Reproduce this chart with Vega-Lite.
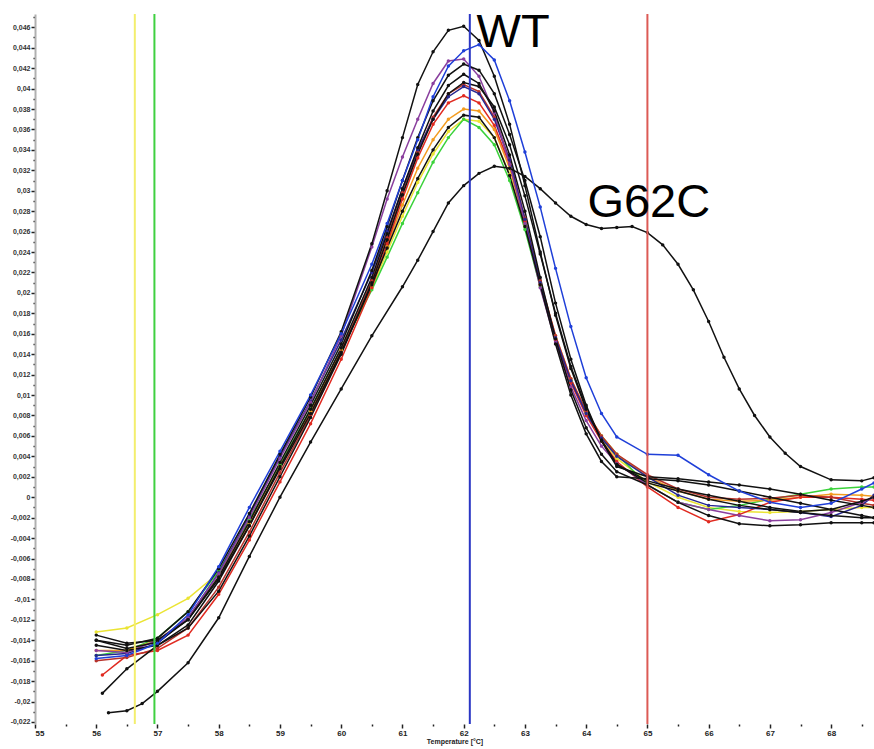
{
"$schema": "https://vega.github.io/schema/vega-lite/v6.json",
"autosize": {"type": "none"},
"padding": {"left": 35, "top": 14, "right": 0, "bottom": 25},
"width": 839,
"height": 710,
"background": "white",
"config": {"view": {"stroke": null}, "font": "Liberation Sans"},
"datasets": {
"curves": [
{"s":"y1","t":56,"v":-0.0132},{"s":"y1","t":56.5,"v":-0.0128},{"s":"y1","t":57,"v":-0.0115},{"s":"y1","t":57.5,"v":-0.0099},{"s":"y1","t":58,"v":-0.0074},{"s":"y1","t":58.5,"v":-0.0026},{"s":"y1","t":59,"v":0.003},{"s":"y1","t":59.5,"v":0.0084},{"s":"y1","t":60,"v":0.0144},{"s":"y1","t":60.5,"v":0.0205},{"s":"y1","t":60.75,"v":0.024},{"s":"y1","t":61,"v":0.0275},{"s":"y1","t":61.25,"v":0.0308},{"s":"y1","t":61.5,"v":0.0336},{"s":"y1","t":61.75,"v":0.0358},{"s":"y1","t":62,"v":0.037},{"s":"y1","t":62.25,"v":0.0368},{"s":"y1","t":62.5,"v":0.0352},{"s":"y1","t":62.75,"v":0.0316},{"s":"y1","t":63,"v":0.0265},{"s":"y1","t":63.25,"v":0.0208},{"s":"y1","t":63.5,"v":0.0156},{"s":"y1","t":63.75,"v":0.0114},{"s":"y1","t":64,"v":0.0082},{"s":"y1","t":64.25,"v":0.0057},{"s":"y1","t":64.5,"v":0.0038},{"s":"y1","t":65,"v":0.0015},{"s":"y1","t":65.5,"v":0.0},{"s":"y1","t":66,"v":-0.001},{"s":"y1","t":66.5,"v":-0.0014},{"s":"y1","t":67,"v":-0.0015},{"s":"y1","t":67.5,"v":-0.0014},{"s":"y1","t":68,"v":-0.0012},{"s":"y1","t":68.5,"v":-0.001},{"s":"y1","t":68.7,"v":-0.001},
{"s":"g1","t":56,"v":-0.0155},{"s":"g1","t":56.5,"v":-0.015},{"s":"g1","t":57,"v":-0.0138},{"s":"g1","t":57.5,"v":-0.0112},{"s":"g1","t":58,"v":-0.0072},{"s":"g1","t":58.5,"v":-0.0022},{"s":"g1","t":59,"v":0.0032},{"s":"g1","t":59.5,"v":0.0086},{"s":"g1","t":60,"v":0.0145},{"s":"g1","t":60.5,"v":0.0203},{"s":"g1","t":60.75,"v":0.0235},{"s":"g1","t":61,"v":0.0268},{"s":"g1","t":61.25,"v":0.0298},{"s":"g1","t":61.5,"v":0.0328},{"s":"g1","t":61.75,"v":0.0352},{"s":"g1","t":62,"v":0.037},{"s":"g1","t":62.25,"v":0.0362},{"s":"g1","t":62.5,"v":0.0345},{"s":"g1","t":62.75,"v":0.031},{"s":"g1","t":63,"v":0.0262},{"s":"g1","t":63.25,"v":0.0206},{"s":"g1","t":63.5,"v":0.0155},{"s":"g1","t":63.75,"v":0.0114},{"s":"g1","t":64,"v":0.0083},{"s":"g1","t":64.25,"v":0.006},{"s":"g1","t":64.5,"v":0.0042},{"s":"g1","t":65,"v":0.0012},{"s":"g1","t":65.5,"v":-0.0005},{"s":"g1","t":66,"v":-0.0012},{"s":"g1","t":66.5,"v":-0.0008},{"s":"g1","t":67,"v":-0.0002},{"s":"g1","t":67.5,"v":0.0003},{"s":"g1","t":68,"v":0.0008},{"s":"g1","t":68.5,"v":0.001},{"s":"g1","t":68.7,"v":0.001},
{"s":"o1","t":56,"v":-0.015},{"s":"o1","t":56.5,"v":-0.015},{"s":"o1","t":57,"v":-0.014},{"s":"o1","t":57.5,"v":-0.0118},{"s":"o1","t":58,"v":-0.0078},{"s":"o1","t":58.5,"v":-0.0026},{"s":"o1","t":59,"v":0.003},{"s":"o1","t":59.5,"v":0.0084},{"s":"o1","t":60,"v":0.0144},{"s":"o1","t":60.5,"v":0.0208},{"s":"o1","t":60.75,"v":0.0246},{"s":"o1","t":61,"v":0.0286},{"s":"o1","t":61.25,"v":0.0322},{"s":"o1","t":61.5,"v":0.035},{"s":"o1","t":61.75,"v":0.037},{"s":"o1","t":62,"v":0.038},{"s":"o1","t":62.25,"v":0.0378},{"s":"o1","t":62.5,"v":0.036},{"s":"o1","t":62.75,"v":0.0322},{"s":"o1","t":63,"v":0.0268},{"s":"o1","t":63.25,"v":0.021},{"s":"o1","t":63.5,"v":0.0158},{"s":"o1","t":63.75,"v":0.0116},{"s":"o1","t":64,"v":0.0084},{"s":"o1","t":64.25,"v":0.006},{"s":"o1","t":64.5,"v":0.0042},{"s":"o1","t":65,"v":0.002},{"s":"o1","t":65.5,"v":0.0006},{"s":"o1","t":66,"v":-0.0002},{"s":"o1","t":66.5,"v":-0.0004},{"s":"o1","t":67,"v":-0.0003},{"s":"o1","t":67.5,"v":0.0},{"s":"o1","t":68,"v":0.0003},{"s":"o1","t":68.5,"v":0.0002},{"s":"o1","t":68.7,"v":0.0001},
{"s":"r1","t":56.1,"v":-0.0174},{"s":"r1","t":56.5,"v":-0.0155},{"s":"r1","t":57,"v":-0.015},{"s":"r1","t":57.5,"v":-0.0135},{"s":"r1","t":58,"v":-0.0095},{"s":"r1","t":58.5,"v":-0.0042},{"s":"r1","t":59,"v":0.0015},{"s":"r1","t":59.5,"v":0.0072},{"s":"r1","t":60,"v":0.0135},{"s":"r1","t":60.5,"v":0.0205},{"s":"r1","t":60.75,"v":0.0248},{"s":"r1","t":61,"v":0.0292},{"s":"r1","t":61.25,"v":0.0332},{"s":"r1","t":61.5,"v":0.0365},{"s":"r1","t":61.75,"v":0.0386},{"s":"r1","t":62,"v":0.0393},{"s":"r1","t":62.25,"v":0.0386},{"s":"r1","t":62.5,"v":0.0364},{"s":"r1","t":62.75,"v":0.0326},{"s":"r1","t":63,"v":0.027},{"s":"r1","t":63.25,"v":0.0208},{"s":"r1","t":63.5,"v":0.0154},{"s":"r1","t":63.75,"v":0.0112},{"s":"r1","t":64,"v":0.008},{"s":"r1","t":64.25,"v":0.0055},{"s":"r1","t":64.5,"v":0.0035},{"s":"r1","t":65,"v":0.001},{"s":"r1","t":65.5,"v":-0.001},{"s":"r1","t":66,"v":-0.0024},{"s":"r1","t":66.5,"v":-0.0017},{"s":"r1","t":67,"v":-0.0005},{"s":"r1","t":67.5,"v":0.0},{"s":"r1","t":68,"v":0.0},{"s":"r1","t":68.5,"v":-0.0002},{"s":"r1","t":68.7,"v":-0.0003},
{"s":"r2","t":56,"v":-0.016},{"s":"r2","t":56.5,"v":-0.0157},{"s":"r2","t":57,"v":-0.0148},{"s":"r2","t":57.5,"v":-0.0128},{"s":"r2","t":58,"v":-0.0088},{"s":"r2","t":58.5,"v":-0.0034},{"s":"r2","t":59,"v":0.0024},{"s":"r2","t":59.5,"v":0.008},{"s":"r2","t":60,"v":0.0142},{"s":"r2","t":60.5,"v":0.0212},{"s":"r2","t":60.75,"v":0.0254},{"s":"r2","t":61,"v":0.0298},{"s":"r2","t":61.25,"v":0.0338},{"s":"r2","t":61.5,"v":0.0372},{"s":"r2","t":61.75,"v":0.0395},{"s":"r2","t":62,"v":0.0404},{"s":"r2","t":62.25,"v":0.0397},{"s":"r2","t":62.5,"v":0.0372},{"s":"r2","t":62.75,"v":0.033},{"s":"r2","t":63,"v":0.0273},{"s":"r2","t":63.25,"v":0.0212},{"s":"r2","t":63.5,"v":0.0158},{"s":"r2","t":63.75,"v":0.0116},{"s":"r2","t":64,"v":0.0084},{"s":"r2","t":64.25,"v":0.006},{"s":"r2","t":64.5,"v":0.0042},{"s":"r2","t":65,"v":0.0022},{"s":"r2","t":65.5,"v":0.0008},{"s":"r2","t":66,"v":0.0},{"s":"r2","t":66.5,"v":-0.0002},{"s":"r2","t":67,"v":-0.0001},{"s":"r2","t":67.5,"v":0.0002},{"s":"r2","t":68,"v":0.0},{"s":"r2","t":68.5,"v":-0.0006},{"s":"r2","t":68.7,"v":-0.0008},
{"s":"n1","t":56,"v":-0.0155},{"s":"n1","t":56.5,"v":-0.0153},{"s":"n1","t":57,"v":-0.0143},{"s":"n1","t":57.5,"v":-0.0118},{"s":"n1","t":58,"v":-0.0074},{"s":"n1","t":58.5,"v":-0.0018},{"s":"n1","t":59,"v":0.004},{"s":"n1","t":59.5,"v":0.0094},{"s":"n1","t":60,"v":0.0154},{"s":"n1","t":60.5,"v":0.022},{"s":"n1","t":60.75,"v":0.026},{"s":"n1","t":61,"v":0.0302},{"s":"n1","t":61.25,"v":0.034},{"s":"n1","t":61.5,"v":0.037},{"s":"n1","t":61.75,"v":0.0392},{"s":"n1","t":62,"v":0.0402},{"s":"n1","t":62.25,"v":0.0395},{"s":"n1","t":62.5,"v":0.037},{"s":"n1","t":62.75,"v":0.033},{"s":"n1","t":63,"v":0.0272},{"s":"n1","t":63.25,"v":0.021},{"s":"n1","t":63.5,"v":0.0156},{"s":"n1","t":63.75,"v":0.0114},{"s":"n1","t":64,"v":0.0082},{"s":"n1","t":64.25,"v":0.0058},{"s":"n1","t":64.5,"v":0.004},{"s":"n1","t":65,"v":0.002},{"s":"n1","t":65.5,"v":0.0002},{"s":"n1","t":66,"v":-0.0008},{"s":"n1","t":66.5,"v":-0.001},{"s":"n1","t":67,"v":-0.0012},{"s":"n1","t":67.5,"v":-0.0015},{"s":"n1","t":68,"v":-0.0019},{"s":"n1","t":68.5,"v":-0.0008},{"s":"n1","t":68.7,"v":0.0002},
{"s":"p1","t":56,"v":-0.015},{"s":"p1","t":56.5,"v":-0.0152},{"s":"p1","t":57,"v":-0.014},{"s":"p1","t":57.5,"v":-0.0118},{"s":"p1","t":58,"v":-0.0075},{"s":"p1","t":58.5,"v":-0.002},{"s":"p1","t":59,"v":0.0038},{"s":"p1","t":59.5,"v":0.0093},{"s":"p1","t":60,"v":0.0158},{"s":"p1","t":60.5,"v":0.0245},{"s":"p1","t":60.75,"v":0.0292},{"s":"p1","t":61,"v":0.0333},{"s":"p1","t":61.25,"v":0.037},{"s":"p1","t":61.5,"v":0.0405},{"s":"p1","t":61.75,"v":0.0427},{"s":"p1","t":62,"v":0.0429},{"s":"p1","t":62.25,"v":0.0412},{"s":"p1","t":62.5,"v":0.0376},{"s":"p1","t":62.75,"v":0.0326},{"s":"p1","t":63,"v":0.0268},{"s":"p1","t":63.25,"v":0.0205},{"s":"p1","t":63.5,"v":0.0152},{"s":"p1","t":63.75,"v":0.0108},{"s":"p1","t":64,"v":0.0075},{"s":"p1","t":64.25,"v":0.005},{"s":"p1","t":64.5,"v":0.0033},{"s":"p1","t":65,"v":0.0012},{"s":"p1","t":65.5,"v":-0.0005},{"s":"p1","t":66,"v":-0.0012},{"s":"p1","t":66.5,"v":-0.0018},{"s":"p1","t":67,"v":-0.0023},{"s":"p1","t":67.5,"v":-0.0022},{"s":"p1","t":68,"v":-0.0015},{"s":"p1","t":68.5,"v":-0.0005},{"s":"p1","t":68.7,"v":0.0},
{"s":"k1","t":56,"v":-0.014},{"s":"k1","t":56.5,"v":-0.0145},{"s":"k1","t":57,"v":-0.0138},{"s":"k1","t":57.5,"v":-0.0112},{"s":"k1","t":58,"v":-0.007},{"s":"k1","t":58.5,"v":-0.0016},{"s":"k1","t":59,"v":0.0042},{"s":"k1","t":59.5,"v":0.0098},{"s":"k1","t":60,"v":0.0162},{"s":"k1","t":60.5,"v":0.0248},{"s":"k1","t":60.75,"v":0.03},{"s":"k1","t":61,"v":0.0352},{"s":"k1","t":61.25,"v":0.0404},{"s":"k1","t":61.5,"v":0.0436},{"s":"k1","t":61.75,"v":0.0457},{"s":"k1","t":62,"v":0.0461},{"s":"k1","t":62.25,"v":0.0447},{"s":"k1","t":62.5,"v":0.0412},{"s":"k1","t":62.75,"v":0.0365},{"s":"k1","t":63,"v":0.0305},{"s":"k1","t":63.25,"v":0.024},{"s":"k1","t":63.5,"v":0.0178},{"s":"k1","t":63.75,"v":0.0126},{"s":"k1","t":64,"v":0.0086},{"s":"k1","t":64.25,"v":0.0056},{"s":"k1","t":64.5,"v":0.0032},{"s":"k1","t":65,"v":0.0014},{"s":"k1","t":65.5,"v":0.0006},{"s":"k1","t":66,"v":-0.0002},{"s":"k1","t":66.5,"v":-0.0008},{"s":"k1","t":67,"v":-0.0012},{"s":"k1","t":67.5,"v":-0.0015},{"s":"k1","t":68,"v":-0.0018},{"s":"k1","t":68.5,"v":-0.002},{"s":"k1","t":68.7,"v":-0.002},
{"s":"k2","t":56,"v":-0.014},{"s":"k2","t":56.5,"v":-0.0148},{"s":"k2","t":57,"v":-0.0142},{"s":"k2","t":57.5,"v":-0.012},{"s":"k2","t":58,"v":-0.0078},{"s":"k2","t":58.5,"v":-0.0024},{"s":"k2","t":59,"v":0.0034},{"s":"k2","t":59.5,"v":0.009},{"s":"k2","t":60,"v":0.015},{"s":"k2","t":60.5,"v":0.0222},{"s":"k2","t":60.75,"v":0.0265},{"s":"k2","t":61,"v":0.031},{"s":"k2","t":61.25,"v":0.0352},{"s":"k2","t":61.5,"v":0.0388},{"s":"k2","t":61.75,"v":0.0413},{"s":"k2","t":62,"v":0.0424},{"s":"k2","t":62.25,"v":0.0418},{"s":"k2","t":62.5,"v":0.0395},{"s":"k2","t":62.75,"v":0.0355},{"s":"k2","t":63,"v":0.031},{"s":"k2","t":63.25,"v":0.0255},{"s":"k2","t":63.5,"v":0.019},{"s":"k2","t":63.75,"v":0.0135},{"s":"k2","t":64,"v":0.009},{"s":"k2","t":64.25,"v":0.0055},{"s":"k2","t":64.5,"v":0.003},{"s":"k2","t":65,"v":0.002},{"s":"k2","t":65.5,"v":0.0018},{"s":"k2","t":66,"v":0.0015},{"s":"k2","t":66.5,"v":0.0012},{"s":"k2","t":67,"v":0.0008},{"s":"k2","t":67.5,"v":0.0003},{"s":"k2","t":68,"v":-0.0003},{"s":"k2","t":68.5,"v":-0.0008},{"s":"k2","t":68.7,"v":-0.001},
{"s":"k3","t":56,"v":-0.0145},{"s":"k3","t":56.5,"v":-0.015},{"s":"k3","t":57,"v":-0.0145},{"s":"k3","t":57.5,"v":-0.0125},{"s":"k3","t":58,"v":-0.0082},{"s":"k3","t":58.5,"v":-0.0028},{"s":"k3","t":59,"v":0.003},{"s":"k3","t":59.5,"v":0.0086},{"s":"k3","t":60,"v":0.0146},{"s":"k3","t":60.5,"v":0.0215},{"s":"k3","t":60.75,"v":0.0258},{"s":"k3","t":61,"v":0.0302},{"s":"k3","t":61.25,"v":0.0342},{"s":"k3","t":61.5,"v":0.0378},{"s":"k3","t":61.75,"v":0.0403},{"s":"k3","t":62,"v":0.0414},{"s":"k3","t":62.25,"v":0.0405},{"s":"k3","t":62.5,"v":0.0378},{"s":"k3","t":62.75,"v":0.0335},{"s":"k3","t":63,"v":0.028},{"s":"k3","t":63.25,"v":0.0215},{"s":"k3","t":63.5,"v":0.0155},{"s":"k3","t":63.75,"v":0.0105},{"s":"k3","t":64,"v":0.0068},{"s":"k3","t":64.25,"v":0.0042},{"s":"k3","t":64.5,"v":0.0025},{"s":"k3","t":65,"v":0.0012},{"s":"k3","t":65.5,"v":-0.0005},{"s":"k3","t":66,"v":-0.0018},{"s":"k3","t":66.5,"v":-0.0026},{"s":"k3","t":67,"v":-0.0028},{"s":"k3","t":67.5,"v":-0.0027},{"s":"k3","t":68,"v":-0.0025},{"s":"k3","t":68.5,"v":-0.0025},{"s":"k3","t":68.7,"v":-0.0025},
{"s":"k4","t":56,"v":-0.0135},{"s":"k4","t":56.5,"v":-0.0143},{"s":"k4","t":57,"v":-0.014},{"s":"k4","t":57.5,"v":-0.012},{"s":"k4","t":58,"v":-0.008},{"s":"k4","t":58.5,"v":-0.0028},{"s":"k4","t":59,"v":0.0028},{"s":"k4","t":59.5,"v":0.0082},{"s":"k4","t":60,"v":0.0142},{"s":"k4","t":60.5,"v":0.0208},{"s":"k4","t":60.75,"v":0.0244},{"s":"k4","t":61,"v":0.028},{"s":"k4","t":61.25,"v":0.0312},{"s":"k4","t":61.5,"v":0.034},{"s":"k4","t":61.75,"v":0.0362},{"s":"k4","t":62,"v":0.0374},{"s":"k4","t":62.25,"v":0.0372},{"s":"k4","t":62.5,"v":0.0352},{"s":"k4","t":62.75,"v":0.0315},{"s":"k4","t":63,"v":0.0265},{"s":"k4","t":63.25,"v":0.0208},{"s":"k4","t":63.5,"v":0.015},{"s":"k4","t":63.75,"v":0.01},{"s":"k4","t":64,"v":0.0062},{"s":"k4","t":64.25,"v":0.0035},{"s":"k4","t":64.5,"v":0.002},{"s":"k4","t":65,"v":0.0018},{"s":"k4","t":65.5,"v":0.0016},{"s":"k4","t":66,"v":0.0012},{"s":"k4","t":66.5,"v":0.0006},{"s":"k4","t":67,"v":0.0},{"s":"k4","t":67.5,"v":-0.0006},{"s":"k4","t":68,"v":-0.0012},{"s":"k4","t":68.5,"v":-0.0018},{"s":"k4","t":68.7,"v":-0.002},
{"s":"k5","t":56.1,"v":-0.0192},{"s":"k5","t":56.5,"v":-0.0168},{"s":"k5","t":57,"v":-0.0145},{"s":"k5","t":57.5,"v":-0.0128},{"s":"k5","t":58,"v":-0.0092},{"s":"k5","t":58.5,"v":-0.0038},{"s":"k5","t":59,"v":0.002},{"s":"k5","t":59.5,"v":0.0078},{"s":"k5","t":60,"v":0.014},{"s":"k5","t":60.5,"v":0.021},{"s":"k5","t":60.75,"v":0.0252},{"s":"k5","t":61,"v":0.0296},{"s":"k5","t":61.25,"v":0.0336},{"s":"k5","t":61.5,"v":0.037},{"s":"k5","t":61.75,"v":0.0395},{"s":"k5","t":62,"v":0.0406},{"s":"k5","t":62.25,"v":0.0402},{"s":"k5","t":62.5,"v":0.0382},{"s":"k5","t":62.75,"v":0.0345},{"s":"k5","t":63,"v":0.0295},{"s":"k5","t":63.25,"v":0.0238},{"s":"k5","t":63.5,"v":0.018},{"s":"k5","t":63.75,"v":0.0128},{"s":"k5","t":64,"v":0.0088},{"s":"k5","t":64.25,"v":0.0055},{"s":"k5","t":64.5,"v":0.0032},{"s":"k5","t":65,"v":0.0016},{"s":"k5","t":65.5,"v":0.0008},{"s":"k5","t":66,"v":0.0002},{"s":"k5","t":66.5,"v":-0.0004},{"s":"k5","t":67,"v":-0.001},{"s":"k5","t":67.5,"v":-0.0014},{"s":"k5","t":68,"v":-0.0012},{"s":"k5","t":68.5,"v":-0.0004},{"s":"k5","t":68.7,"v":0.0},
{"s":"k6","t":56.2,"v":-0.0211},{"s":"k6","t":56.5,"v":-0.0209},{"s":"k6","t":56.75,"v":-0.0202},{"s":"k6","t":57,"v":-0.019},{"s":"k6","t":57.5,"v":-0.0162},{"s":"k6","t":58,"v":-0.0118},{"s":"k6","t":58.5,"v":-0.0058},{"s":"k6","t":59,"v":0.0},{"s":"k6","t":59.5,"v":0.0054},{"s":"k6","t":60,"v":0.0106},{"s":"k6","t":60.5,"v":0.0158},{"s":"k6","t":61,"v":0.0206},{"s":"k6","t":61.25,"v":0.0232},{"s":"k6","t":61.5,"v":0.026},{"s":"k6","t":61.75,"v":0.0288},{"s":"k6","t":62,"v":0.0305},{"s":"k6","t":62.25,"v":0.0317},{"s":"k6","t":62.5,"v":0.0324},{"s":"k6","t":62.75,"v":0.0322},{"s":"k6","t":63,"v":0.0314},{"s":"k6","t":63.25,"v":0.0302},{"s":"k6","t":63.5,"v":0.0288},{"s":"k6","t":63.75,"v":0.0275},{"s":"k6","t":64,"v":0.0267},{"s":"k6","t":64.25,"v":0.0263},{"s":"k6","t":64.5,"v":0.0264},{"s":"k6","t":64.75,"v":0.0265},{"s":"k6","t":65,"v":0.0259},{"s":"k6","t":65.25,"v":0.0247},{"s":"k6","t":65.5,"v":0.0228},{"s":"k6","t":65.75,"v":0.0203},{"s":"k6","t":66,"v":0.0172},{"s":"k6","t":66.25,"v":0.0137},{"s":"k6","t":66.5,"v":0.0106},{"s":"k6","t":66.75,"v":0.008},{"s":"k6","t":67,"v":0.0059},{"s":"k6","t":67.25,"v":0.0043},{"s":"k6","t":67.5,"v":0.003},{"s":"k6","t":68,"v":0.0017},{"s":"k6","t":68.5,"v":0.0016},{"s":"k6","t":68.7,"v":0.0019},
{"s":"b1","t":56,"v":-0.0158},{"s":"b1","t":56.5,"v":-0.0155},{"s":"b1","t":57,"v":-0.0143},{"s":"b1","t":57.5,"v":-0.0115},{"s":"b1","t":58,"v":-0.0068},{"s":"b1","t":58.5,"v":-0.001},{"s":"b1","t":59,"v":0.0045},{"s":"b1","t":59.5,"v":0.01},{"s":"b1","t":60,"v":0.016},{"s":"b1","t":60.5,"v":0.0228},{"s":"b1","t":60.75,"v":0.0268},{"s":"b1","t":61,"v":0.031},{"s":"b1","t":61.25,"v":0.035},{"s":"b1","t":61.5,"v":0.0392},{"s":"b1","t":61.75,"v":0.0422},{"s":"b1","t":62,"v":0.0437},{"s":"b1","t":62.25,"v":0.0443},{"s":"b1","t":62.5,"v":0.0428},{"s":"b1","t":62.75,"v":0.0388},{"s":"b1","t":63,"v":0.0338},{"s":"b1","t":63.25,"v":0.0284},{"s":"b1","t":63.5,"v":0.0224},{"s":"b1","t":63.75,"v":0.0167},{"s":"b1","t":64,"v":0.0117},{"s":"b1","t":64.25,"v":0.0082},{"s":"b1","t":64.5,"v":0.0059},{"s":"b1","t":65,"v":0.0042},{"s":"b1","t":65.5,"v":0.0041},{"s":"b1","t":66,"v":0.0022},{"s":"b1","t":66.5,"v":0.0006},{"s":"b1","t":67,"v":-0.0005},{"s":"b1","t":67.5,"v":-0.001},{"s":"b1","t":68,"v":-0.0006},{"s":"b1","t":68.5,"v":0.0008},{"s":"b1","t":68.7,"v":0.0014}
],
"rules": [
{"t":56.63,"c":"#f3ee6e"},
{"t":56.95,"c":"#3fd040"},
{"t":62.1,"c":"#2a36c4"},
{"t":65.0,"c":"#dc5a55"}
],
"labels": [
{"t":62.21,"v":0.0441,"label":"WT"},
{"t":64.02,"v":0.0274,"label":"G62C"}
]
},
"layer": [
{
"data": {"name": "curves"},
"mark": {"type": "line", "strokeWidth": 1.5, "clip": true, "point": {"filled": true, "size": 12}},
"encoding": {
"x": {"field": "t", "type": "quantitative",
"scale": {"domain": [55, 68.7], "nice": false, "zero": false},
"axis": {
"values": [55,55.5,56,56.5,57,57.5,58,58.5,59,59.5,60,60.5,61,61.5,62,62.5,63,63.5,64,64.5,65,65.5,66,66.5,67,67.5,68,68.5],
"tickCount": 200,
"labelExpr": "datum.value % 1 === 0 ? format(datum.value, 'd') : ''",
"labelOverlap": false,
"domain": false, "grid": false,
"tickSize": {"condition": {"test": "datum.value % 1 !== 0", "value": 2}, "value": 4},
"tickColor": "#222", "tickWidth": 1.5,
"labelFontSize": 8, "labelFontWeight": "bold", "labelColor": "#222", "labelPadding": 1,
"title": "Temperature [°C]", "titleFontSize": 7, "titleFontWeight": "bold", "titleColor": "#222", "titlePadding": 0
}},
"y": {"field": "v", "type": "quantitative",
"scale": {"domain": [-0.0222, 0.0473], "nice": false, "zero": false},
"axis": {
"values": [-0.022,-0.021,-0.02,-0.019,-0.018,-0.017,-0.016,-0.015,-0.014,-0.013,-0.012,-0.011,-0.01,-0.009,-0.008,-0.007,-0.006,-0.005,-0.004,-0.003,-0.002,-0.001,0,0.001,0.002,0.003,0.004,0.005,0.006,0.007,0.008,0.009,0.01,0.011,0.012,0.013,0.014,0.015,0.016,0.017,0.018,0.019,0.02,0.021,0.022,0.023,0.024,0.025,0.026,0.027,0.028,0.029,0.03,0.031,0.032,0.033,0.034,0.035,0.036,0.037,0.038,0.039,0.04,0.041,0.042,0.043,0.044,0.045,0.046,0.047],
"tickCount": 200,
"labelExpr": "round(datum.value*1000) % 2 === 0 ? replace(replace(format(datum.value, '~g'), '.', ','), '−', '-') : ''",
"labelOverlap": false,
"domain": true, "domainColor": "#b0b0b0", "domainWidth": 2,
"grid": false,
"tickSize": {"condition": {"test": "round(datum.value*1000) % 2 !== 0", "value": 2}, "value": 4},
"tickColor": "#222", "tickWidth": 1.5,
"labelFontSize": 7, "labelFontWeight": "bold", "labelColor": "#333", "labelPadding": 1,
"title": null
}},
"color": {"field": "s", "type": "nominal", "legend": null, "sort": null,
"scale": {
"domain": ["y1","g1","o1","r1","r2","n1","p1","k1","k2","k3","k4","k5","k6","b1"],
"range": ["#ebe433","#3ad23a","#f39c1f","#e02a20","#b8322a","#27278f","#8a3f9e","#111111","#111111","#111111","#111111","#111111","#111111","#1f3fd8"]
}}
}
},
{
"data": {"name": "rules"},
"mark": {"type": "rule", "strokeWidth": 2},
"encoding": {
"x": {"field": "t", "type": "quantitative"},
"color": {"field": "c", "type": "nominal", "scale": null, "legend": null}
}
},
{
"data": {"name": "labels"},
"mark": {"type": "text", "align": "left", "baseline": "alphabetic", "fontSize": 47, "font": "Liberation Sans", "color": "#000"},
"encoding": {
"x": {"field": "t", "type": "quantitative"},
"y": {"field": "v", "type": "quantitative"},
"text": {"field": "label"}
}
}
]
}
